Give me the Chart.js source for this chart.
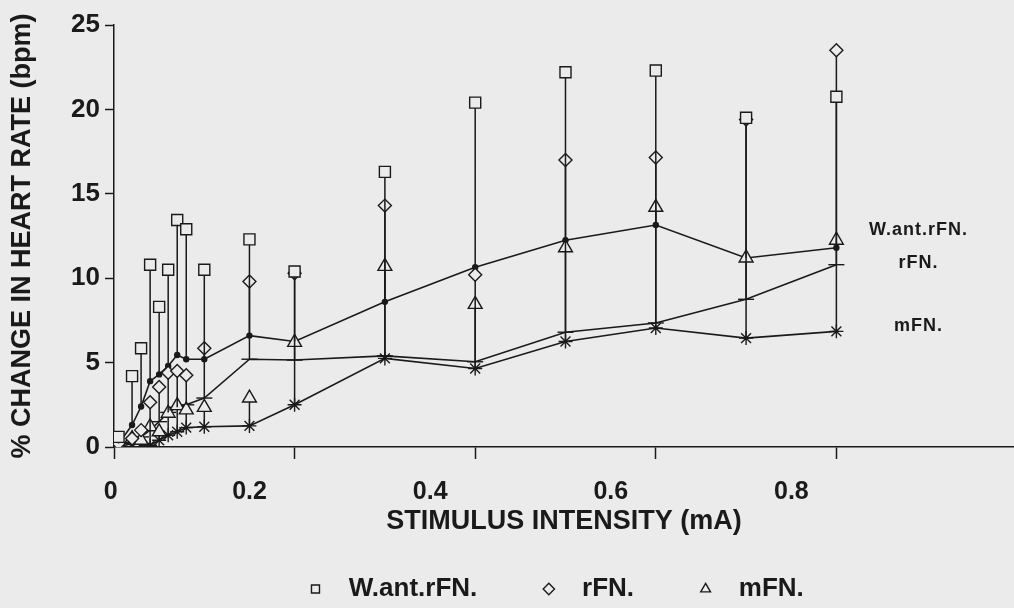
<!DOCTYPE html>
<html>
<head>
<meta charset="utf-8">
<title>% change in heart rate vs stimulus intensity</title>
<script src="https://cdn.jsdelivr.net/npm/chart.js@4.4.1/dist/chart.umd.min.js"></script>
<style>
  html, body { margin: 0; padding: 0; background: #ebebeb; }
  #wrap { width: 1014px; height: 608px; }
  canvas { display: block; }
</style>
</head>
<body>
<div id="wrap"><canvas id="hrChart" width="1014" height="608"></canvas></div>
<script>
// Stimulus intensity (mA)
const stimulus = [0, 0.005, 0.02, 0.03, 0.04, 0.05, 0.06, 0.07, 0.08, 0.1, 0.15, 0.2, 0.3, 0.4, 0.5, 0.6, 0.7, 0.8];

// Mean % change in heart rate
const wantMean = [0, 0.2, 1.3, 2.4, 3.9, 4.3, 4.8, 5.45, 5.2, 5.2, 6.6, 6.25, 8.6, 10.65, 12.25, 13.15, 11.2, 11.8];
const rfnMean  = [0, 0, 0.2, 0.6, 1.0, 1.5, 2.05, 2.35, 2.5, 2.9, 5.2, 5.15, 5.4, 5.05, 6.8, 7.35, 8.75, 10.8];
const mfnMean  = [0, 0, 0, 0, 0.1, 0.4, 0.7, 0.9, 1.15, 1.2, 1.25, 2.5, 5.25, 4.65, 6.25, 7.05, 6.45, 6.85];

// Top of each error bar (mean + SD)
const wantTop = [null, 0.6, 4.2, 5.85, 10.8, 8.3, 10.5, 13.45, 12.9, 10.5, 12.3, 10.4, 16.3, 20.4, 22.2, 22.3, 19.5, 20.75];
const rfnTop  = [null, 0.2, 0.5, 1.0, 2.65, 3.55, 4.4, 4.5, 4.25, 5.85, 9.8, 10.3, 14.3, 10.2, 17.0, 17.15, 19.4, 23.5];
const mfnTop  = [null, 0.1, 0.5, 0.4, 1.2, 0.9, 2.0, 2.45, 2.2, 2.35, 2.9, 6.2, 10.7, 8.45, 11.8, 14.2, 11.2, 12.25];

const seriesNames = ["W.ant.rFN.", "rFN.", "mFN."];
const xTicks = [0, 0.2, 0.4, 0.6, 0.8];
const yTicks = [0, 5, 10, 15, 20, 25];

const ink = "#1a1a1a";
const paper = "#ebebeb";
const family = '"Liberation Sans", Arial, Helvetica, sans-serif';

Chart.defaults.font.family = family;
Chart.defaults.color = ink;

const means = [wantMean, rfnMean, mfnMean];
const tops = [wantTop, rfnTop, mfnTop];

const meanMarks = [
  { style: "circle", r: 2.5 },
  { style: "line", r: 8 },
  { style: "star", r: 7 }
];
const topMarks = [
  { style: "rect", r: 7.8 },
  { style: "rectRot", r: 6.5 },
  { style: "triangle", r: 8 }
];

// mean -> top, then a gap, for every stimulus that has a bar
const whiskerPoints = (m, t) => {
  const pts = [];
  stimulus.forEach((s, i) => {
    if (t[i] == null) return;
    pts.push({ x: s, y: m[i] }, { x: s, y: t[i] }, { x: s, y: null });
  });
  return pts;
};

const whiskerSets = seriesNames.map((name, k) => ({
  type: "line",
  label: name,
  data: whiskerPoints(means[k], tops[k]),
  borderColor: ink,
  borderWidth: 1.5,
  backgroundColor: paper,
  spanGaps: false,
  pointStyle: topMarks[k].style,
  pointRadius: (ctx) => (ctx.index % 3 === 1 ? topMarks[k].r : 0),
  pointBackgroundColor: paper,
  pointBorderColor: ink,
  pointBorderWidth: 1.4,
  order: 1
}));

const meanSets = seriesNames.map((name, k) => ({
  type: "line",
  label: name + " mean",
  data: stimulus.map((s, i) => ({ x: s, y: means[k][i] })),
  borderColor: ink,
  borderWidth: 1.6,
  tension: 0,
  fill: false,
  pointStyle: meanMarks[k].style,
  pointRadius: meanMarks[k].r,
  pointBackgroundColor: ink,
  pointBorderColor: ink,
  pointBorderWidth: 1.4,
  order: 2
}));

// names written at the right-hand end of each mean line
const endLabels = {
  id: "endLabels",
  afterDatasetsDraw(chart) {
    const { ctx, scales: { x, y } } = chart;
    const shift = [-18, -2, -5];
    const last = stimulus.length - 1;
    ctx.save();
    ctx.font = "bold 18px " + family;
    ctx.letterSpacing = "1px";
    ctx.fillStyle = ink;
    ctx.textAlign = "center";
    ctx.textBaseline = "middle";
    seriesNames.forEach((name, k) => {
      const px = x.getPixelForValue(stimulus[last]) + 82;
      const py = y.getPixelForValue(means[k][last]) + shift[k];
      ctx.fillText(name, px, py);
    });
    ctx.restore();
  }
};

new Chart(document.getElementById("hrChart"), {
  type: "line",
  data: { datasets: [...whiskerSets, ...meanSets] },
  options: {
    responsive: false,
    animation: false,
    events: [],
    layout: { autoPadding: false, padding: { top: 25, right: 0, bottom: -4, left: 0 } },
    plugins: {
      tooltip: { enabled: false },
      legend: {
        position: "bottom",
        fullSize: false,
        labels: {
          usePointStyle: true,
          boxHeight: 8,
          padding: 8,
          color: ink,
          font: { size: 26, weight: "bold" },
          filter: (item) => item.datasetIndex < 3,
          generateLabels(chart) {
            const items = Chart.defaults.plugins.legend.labels.generateLabels(chart);
            // wide gaps between the legend entries, as in the printed key
            items.forEach((it) => {
              it.text = " " + it.text + (it.datasetIndex < 2 ? "       " : "   ");
            });
            return items;
          }
        }
      }
    },
    scales: {
      x: {
        type: "linear",
        min: 0,
        max: 0.9967,
        afterBuildTicks: (s) => { s.ticks = xTicks.map((v) => ({ value: v })); },
        afterFit: (s) => { s.height = 121; },
        grid: { drawOnChartArea: false, drawTicks: true, tickLength: 12, tickColor: ink, tickWidth: 1.5 },
        border: { color: ink, width: 1.5 },
        ticks: {
          autoSkip: false,
          maxRotation: 0,
          labelOffset: -45,
          padding: 18,
          color: ink,
          font: { size: 25, weight: "bold" },
          callback: (v) => (v === 0 ? "            0" : v.toFixed(1))
        },
        title: {
          display: true,
          text: "STIMULUS INTENSITY (mA)",
          color: ink,
          font: { size: 27, weight: "bold" },
          padding: { top: 0, bottom: 30 }
        }
      },
      y: {
        min: 0,
        max: 25,
        afterBuildTicks: (s) => { s.ticks = yTicks.map((v) => ({ value: v })); },
        afterFit: (s) => { s.width = 114; },
        grid: { drawOnChartArea: false, drawTicks: true, tickLength: 9, tickColor: ink, tickWidth: 1.5 },
        border: { color: ink, width: 1.5 },
        ticks: {
          padding: 5,
          color: ink,
          font: { size: 26, weight: "bold" }
        },
        title: {
          display: true,
          text: "% CHANGE IN HEART RATE (bpm)",
          color: ink,
          font: { size: 27, weight: "bold" },
          padding: { top: 6, bottom: 0 }
        }
      }
    }
  },
  plugins: [endLabels]
});
</script>
</body>
</html>
